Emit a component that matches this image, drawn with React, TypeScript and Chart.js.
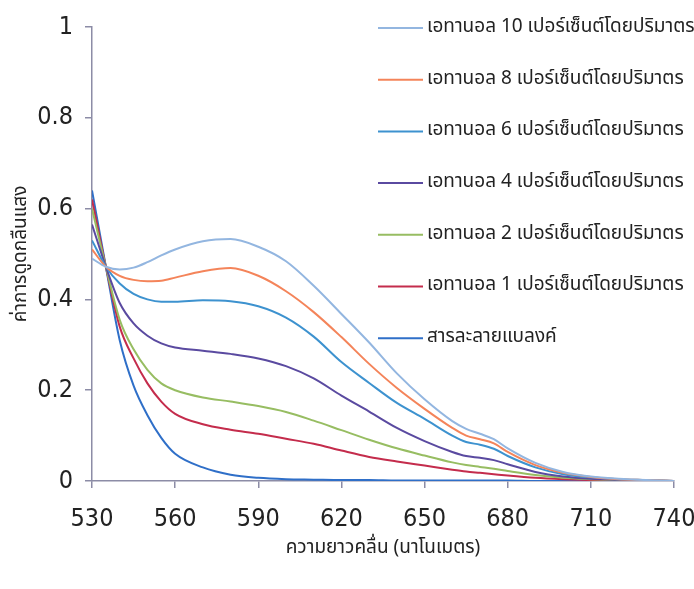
import React, { useEffect, useRef } from "react";
import { Chart, registerables } from "chart.js";

Chart.register(...registerables);

const wavelengths = [530, 535, 540, 545, 550, 555, 560, 570, 580, 590, 600, 610, 620, 630, 640, 650, 660, 665, 670, 675, 680, 690, 700, 710, 720, 730, 740];

const ethanol10 = [0.49, 0.472, 0.466, 0.47, 0.482, 0.497, 0.51, 0.528, 0.533, 0.516, 0.484, 0.43, 0.368, 0.305, 0.237, 0.18, 0.132, 0.115, 0.104, 0.092, 0.072, 0.04, 0.02, 0.01, 0.005, 0.002, 0.0];
const ethanol8 = [0.51, 0.472, 0.452, 0.443, 0.44, 0.441, 0.448, 0.462, 0.469, 0.452, 0.418, 0.372, 0.317, 0.258, 0.205, 0.159, 0.117, 0.1, 0.092, 0.083, 0.064, 0.035, 0.018, 0.009, 0.004, 0.002, 0.0];
const ethanol6 = [0.53, 0.472, 0.435, 0.412, 0.4, 0.395, 0.395, 0.398, 0.396, 0.385, 0.36, 0.318, 0.262, 0.216, 0.172, 0.137, 0.1, 0.086, 0.08, 0.071, 0.055, 0.03, 0.015, 0.008, 0.004, 0.002, 0.0];
const ethanol4 = [0.565, 0.472, 0.392, 0.347, 0.32, 0.303, 0.294, 0.287, 0.28, 0.27, 0.253, 0.226, 0.188, 0.153, 0.117, 0.088, 0.064, 0.055, 0.051, 0.046, 0.037, 0.02, 0.01, 0.005, 0.003, 0.001, 0.0];
const ethanol2 = [0.6, 0.472, 0.355, 0.29, 0.245, 0.215, 0.2, 0.184, 0.175, 0.165, 0.152, 0.133, 0.112, 0.091, 0.072, 0.056, 0.041, 0.035, 0.031, 0.027, 0.022, 0.013, 0.007, 0.004, 0.002, 0.001, 0.0];
const ethanol1 = [0.62, 0.472, 0.34, 0.27, 0.215, 0.175, 0.148, 0.125, 0.113, 0.104, 0.093, 0.082, 0.067, 0.053, 0.043, 0.034, 0.025, 0.021, 0.018, 0.015, 0.012, 0.007, 0.004, 0.002, 0.001, 0.0, 0.0];
const blank = [0.64, 0.472, 0.31, 0.21, 0.145, 0.095, 0.06, 0.03, 0.014, 0.007, 0.004, 0.003, 0.002, 0.002, 0.001, 0.001, 0.001, 0.001, 0.001, 0.001, 0.001, 0.0, 0.0, 0.0, 0.0, 0.0, 0.0];

const seriesLabels = [
  "เอทานอล 10 เปอร์เซ็นต์โดยปริมาตร",
  "เอทานอล 8 เปอร์เซ็นต์โดยปริมาตร",
  "เอทานอล 6 เปอร์เซ็นต์โดยปริมาตร",
  "เอทานอล 4 เปอร์เซ็นต์โดยปริมาตร",
  "เอทานอล 2 เปอร์เซ็นต์โดยปริมาตร",
  "เอทานอล 1 เปอร์เซ็นต์โดยปริมาตร",
  "สารละลายแบลงค์",
];
const seriesValues = [ethanol10, ethanol8, ethanol6, ethanol4, ethanol2, ethanol1, blank];
const seriesColors = ["#93b6e0", "#f4845a", "#3d92cf", "#5a4aa0", "#97bd62", "#c42c4c", "#2f6fc8"];

const xTicks = [530, 560, 590, 620, 650, 680, 710, 740];
const yTickLabels = ["0", "0.2", "0.4", "0.6", "0.8", "1"];

const xTitle = "ความยาวคลื่น (นาโนเมตร)";
const yTitle = "ค่าการดูดกลืนแสง";

const THAI_FONT = "'Noto Sans Thai', 'Noto Serif Thai', 'Loma', 'Garuda', 'Norasi', 'Noto Sans', 'DejaVu Sans', sans-serif";
const NUM_FONT = "'Liberation Sans Narrow', 'DejaVu Sans Condensed', 'Liberation Sans', sans-serif";
const axisColor = "#8c8ca6";
const textColor = "#222222";

const legendPlugin = {
  id: "insideLegend",
  afterDraw(chart: any) {
    const ctx = chart.ctx;
    const x0 = 378;
    const x1 = 423;
    const tx = 427;
    const y0 = 28;
    const step = 51.7;
    ctx.save();
    ctx.font = `19px ${THAI_FONT}`;
    ctx.textBaseline = "middle";
    ctx.textAlign = "left";
    chart.data.datasets.forEach((ds: any, i: number) => {
      const y = y0 + i * step;
      ctx.strokeStyle = ds.borderColor;
      ctx.lineWidth = 2;
      ctx.beginPath();
      ctx.moveTo(x0, y);
      ctx.lineTo(x1, y);
      ctx.stroke();
      ctx.fillStyle = textColor;
      ctx.fillText(ds.label, tx, y);
    });
    ctx.restore();
  },
};

export default function App() {
  const canvasRef = useRef<HTMLCanvasElement | null>(null);

  useEffect(() => {
    if (!canvasRef.current) return;
    const datasets = seriesLabels.map((label, i) => ({
      label,
      data: wavelengths.map((w, j) => ({ x: w, y: seriesValues[i][j] })),
      borderColor: seriesColors[i],
      backgroundColor: seriesColors[i],
      borderWidth: 2,
      pointRadius: 0,
      cubicInterpolationMode: "monotone" as const,
      fill: false,
    }));
    const chart = new Chart(canvasRef.current, {
      type: "line",
      data: { datasets },
      plugins: [legendPlugin],
      options: {
        animation: false,
        responsive: false,
        layout: { padding: { left: 0, top: 16, right: 20, bottom: 0 } },
        plugins: { legend: { display: false }, tooltip: { enabled: false } },
        scales: {
          x: {
            type: "linear",
            min: 530,
            max: 740,
            afterBuildTicks: (scale: any) => {
              scale.ticks = xTicks.map((v) => ({ value: v }));
            },
            afterFit: (scale: any) => {
              scale.height = 108;
              scale.paddingLeft = 0;
              scale.paddingRight = 0;
            },
            ticks: {
              color: textColor,
              padding: 16,
              maxRotation: 0,
              autoSkip: false,
              font: { family: NUM_FONT, size: 25 },
              callback: (v: any) => String(v),
            },
            grid: { display: true, drawOnChartArea: false, drawTicks: true, tickLength: 7, color: axisColor, lineWidth: 1.5 },
            border: { display: true, color: axisColor, width: 1.5 },
            title: {
              display: true,
              text: xTitle,
              color: textColor,
              font: { family: THAI_FONT, size: 19 },
              padding: { top: 0, bottom: 28 },
            },
          },
          y: {
            type: "linear",
            min: 0,
            max: 1,
            afterBuildTicks: (scale: any) => {
              scale.ticks = yTickLabels.map((t) => ({ value: parseFloat(t) }));
            },
            afterFit: (scale: any) => {
              scale.width = 92;
            },
            ticks: {
              color: textColor,
              padding: 12,
              font: { family: NUM_FONT, size: 25 },
              callback: (v: any) => {
                const idx = yTickLabels.findIndex((t) => Math.abs(parseFloat(t) - v) < 1e-6);
                return idx >= 0 ? yTickLabels[idx] : "";
              },
            },
            grid: { display: true, drawOnChartArea: false, drawTicks: true, tickLength: 7, color: axisColor, lineWidth: 1.5 },
            border: { display: true, color: axisColor, width: 1.5 },
            title: {
              display: true,
              text: yTitle,
              color: textColor,
              font: { family: THAI_FONT, size: 19 },
              padding: { top: 11, bottom: 0 },
            },
          },
        },
      },
    });
    return () => chart.destroy();
  }, []);

  return (
    <div style={{ position: "absolute", left: 0, top: 0, width: 694, height: 589, background: "#ffffff" }}>
      <canvas ref={canvasRef} width={694} height={589} />
    </div>
  );
}
